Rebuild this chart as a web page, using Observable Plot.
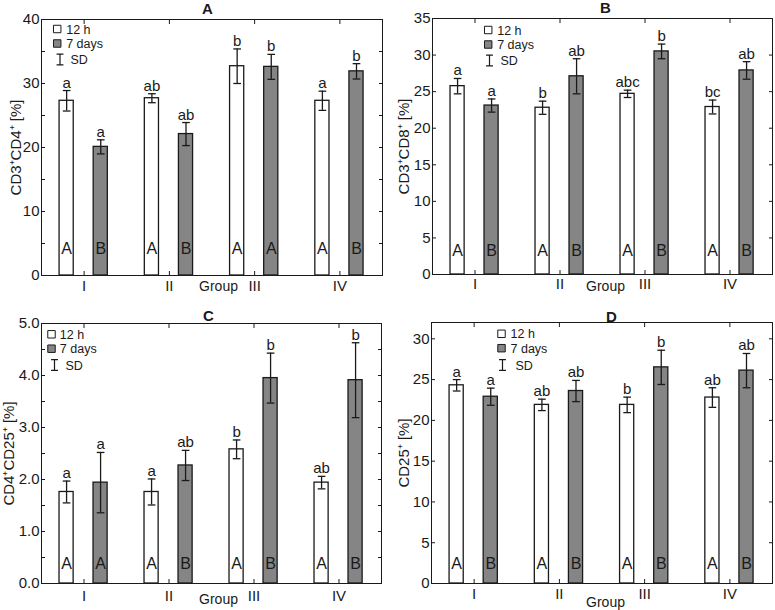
<!DOCTYPE html>
<html><head><meta charset="utf-8">
<script src="https://cdn.jsdelivr.net/npm/d3@7"></script>
<script src="https://cdn.jsdelivr.net/npm/@observablehq/plot@0.6"></script>
<style>
body{margin:0;background:#fff;}
#root{position:relative;width:775px;height:610px;overflow:hidden;font-family:"Liberation Sans",Arial,sans-serif;}
.panel{position:absolute;}
.panel svg{display:block;}
</style></head><body><div id="root"></div>
<script>
// ---- shared categories / labels ----
const groups = ["I", "II", "III", "IV"];
const series = ["12 h", "7 days"];
const legendLabels = ["12 h", "7 days", "SD"];
const xLabel = "Group";
const titles = ["A", "B", "C", "D"];
const yLabels = ["CD3⁺CD4⁺ [%]", "CD3⁺CD8⁺ [%]", "CD4⁺CD25⁺ [%]", "CD25⁺ [%]"];

// ---- Panel A: CD3+CD4+ ----
const aMean12 = [27.3, 27.7, 32.7, 27.3];
const aSd12   = [1.6, 0.7, 2.7, 1.5];
const aMean7  = [20.1, 22.1, 32.6, 31.9];
const aSd7    = [1.1, 1.8, 1.95, 1.2];
const aTop12  = ["a", "ab", "b", "a"];
const aTop7   = ["a", "ab", "b", "b"];
const aBot12  = ["A", "A", "A", "A"];
const aBot7   = ["B", "B", "A", "B"];
const aTicks  = [0, 5, 10, 15, 20, 25, 30, 35, 40];
const aTickLabels = [0, 10, 20, 30, 40];

// ---- Panel B: CD3+CD8+ ----
const bMean12 = [25.75, 22.8, 24.7, 22.9];
const bSd12   = [1.05, 0.9, 0.5, 0.95];
const bMean7  = [23.1, 27.1, 30.5, 27.9];
const bSd7    = [0.9, 2.4, 1.0, 1.2];
const bTop12  = ["a", "b", "abc", "bc"];
const bTop7   = ["a", "ab", "b", "ab"];
const bBot12  = ["A", "A", "A", "A"];
const bBot7   = ["B", "B", "B", "B"];
const bTicks  = [0, 5, 10, 15, 20, 25, 30, 35];
const bTickLabels = [0, 5, 10, 15, 20, 25, 30, 35];

// ---- Panel C: CD4+CD25+ ----
const cMean12 = [1.76, 1.76, 2.58, 1.94];
const cSd12   = [0.21, 0.25, 0.18, 0.12];
const cMean7  = [1.94, 2.27, 3.95, 3.91];
const cSd7    = [0.58, 0.29, 0.48, 0.72];
const cTop12  = ["a", "a", "b", "ab"];
const cTop7   = ["a", "ab", "b", "b"];
const cBot12  = ["A", "A", "A", "A"];
const cBot7   = ["A", "B", "B", "B"];
const cTicks  = [0, 0.5, 1, 1.5, 2, 2.5, 3, 3.5, 4, 4.5, 5];
const cTickLabels = [0, 1, 2, 3, 4, 5];

// ---- Panel D: CD25+ ----
const dMean12 = [24.3, 21.9, 21.9, 22.8];
const dSd12   = [0.7, 0.7, 0.95, 1.2];
const dMean7  = [22.9, 23.6, 26.5, 26.1];
const dSd7    = [1.05, 1.3, 2.1, 2.1];
const dTop12  = ["a", "ab", "b", "ab"];
const dTop7   = ["a", "ab", "b", "ab"];
const dBot12  = ["A", "A", "A", "A"];
const dBot7   = ["B", "B", "B", "B"];
const dTicks  = [0, 5, 10, 15, 20, 25, 30];
const dTickLabels = [0, 5, 10, 15, 20, 25, 30];

// ---- panel definitions (data refs) ----
const panels = [
  {title: titles[0], yLabel: yLabels[0], ymax: 40, m12: aMean12, s12: aSd12, m7: aMean7, s7: aSd7, t12: aTop12, t7: aTop7, b12: aBot12, b7: aBot7, ticks: aTicks, tickLabels: aTickLabels, fmt: d3.format("d")},
  {title: titles[1], yLabel: yLabels[1], ymax: 35, m12: bMean12, s12: bSd12, m7: bMean7, s7: bSd7, t12: bTop12, t7: bTop7, b12: bBot12, b7: bBot7, ticks: bTicks, tickLabels: bTickLabels, fmt: d3.format("d")},
  {title: titles[2], yLabel: yLabels[2], ymax: 5, m12: cMean12, s12: cSd12, m7: cMean7, s7: cSd7, t12: cTop12, t7: cTop7, b12: cBot12, b7: cBot7, ticks: cTicks, tickLabels: cTickLabels, fmt: d3.format(".1f")},
  {title: titles[3], yLabel: yLabels[3], ymax: 32, m12: dMean12, s12: dSd12, m7: dMean7, s7: dSd7, t12: dTop12, t7: dTop7, b12: dBot12, b7: dBot7, ticks: dTicks, tickLabels: dTickLabels, fmt: d3.format("d")}
];

// ---- layout (positions / styles only) ----
const layouts = [
  {left: 0, top: 0, w: 387, h: 300, mL: 41, mR: 5, mT: 19, mB: 25, titleDx: -4.5, titleDy: -10.5, botDy: -27, grpDx: 6.5, grpDy: 11, ylabDx: -25, xPad: 5,
   legSq: 15.7, legSd: 18.5, legTx: 24.7, legSdTx: 29, legRows: [9.5, 24, 40]},
  {left: 387, top: 0, w: 388, h: 300, mL: 45, mR: 3, mT: 18, mB: 26, titleDx: 3, titleDy: -10, botDy: -24, grpDx: 3, grpDy: 12, ylabDx: -28, xPad: 4,
   legSq: 55.7, legSd: 57, legTx: 64.7, legSdTx: 68, legRows: [11.5, 26, 42]},
  {left: 0, top: 300, w: 387, h: 310, mL: 41, mR: 6, mT: 23, mB: 27, titleDx: -3, titleDy: -7, botDy: -20, grpDx: 7, grpDy: 16, ylabDx: -32.5, xPad: 7,
   legSq: 10, legSd: 13, legTx: 18.3, legSdTx: 24, legRows: [10.8, 25.2, 41.5]},
  {left: 387, top: 300, w: 388, h: 310, mL: 44, mR: 3, mT: 22, mB: 27, titleDx: 9.5, titleDy: -5.5, botDy: -20, grpDx: 3.5, grpDy: 19, ylabDx: -27, xPad: 5,
   legSq: 70, legSd: 71, legTx: 79, legSdTx: 84, legRows: [11.3, 25.7, 42.5]}
];

const GRAY = "#858585";
const INK = "#1a1a1a";
const FONT = "'Liberation Sans', Arial, Helvetica, sans-serif";

const errSymbol = {
  draw(ctx, size) {
    const h = Math.sqrt(size / Math.PI);
    const c = h * 0.65;
    ctx.moveTo(-c, -h); ctx.lineTo(c, -h);
    ctx.moveTo(0, -h); ctx.lineTo(0, h);
    ctx.moveTo(-c, h); ctx.lineTo(c, h);
  }
};

function makePanel(p, L) {
  const rows = [];
  groups.forEach((g, i) => {
    rows.push({g: i + 1, s: 0, v: p.m12[i], sd: p.s12[i], top: p.t12[i], bot: p.b12[i]});
    rows.push({g: i + 1, s: 1, v: p.m7[i], sd: p.s7[i], top: p.t7[i], bot: p.b7[i]});
  });
  const off = [-0.205, 0.195], hw = 0.083, cw = 0.045;
  const cx = d => d.g + off[d.s];
  const gIdx = groups.map((g, i) => i + 1);

  const legend = [];
  [0, 1].forEach(k => {
    legend.push(Plot.dot([series[k]], {frameAnchor: "top-left", dx: L.legSq, dy: L.legRows[k], symbol: "square", r: 4.2,
      fill: k ? GRAY : "white", stroke: INK, strokeWidth: 1}));
    legend.push(Plot.text([legendLabels[k]], {text: d => d, frameAnchor: "top-left", dx: L.legTx, dy: L.legRows[k] + 0.5, textAnchor: "start", lineAnchor: "middle", fontSize: 12.5, fill: INK}));
  });
  legend.push(Plot.dot([legendLabels[2]], {frameAnchor: "top-left", dx: L.legSd, dy: L.legRows[2], symbol: errSymbol, r: 5.3, fill: "none", stroke: INK, strokeWidth: 1.2}));
  legend.push(Plot.text([legendLabels[2]], {text: d => d, frameAnchor: "top-left", dx: L.legSdTx, dy: L.legRows[2] + 0.5, textAnchor: "start", lineAnchor: "middle", fontSize: 12.5, fill: INK}));

  return Plot.plot({
    width: L.w, height: L.h,
    marginLeft: L.mL, marginRight: L.mR, marginTop: L.mT, marginBottom: L.mB,
    x: {domain: [0.5, 4.5]},
    y: {domain: [0, p.ymax]},
    style: {fontFamily: FONT, fontSize: "13px", color: INK, background: "white", overflow: "visible"},
    marks: [
      Plot.rect(rows, {x1: d => cx(d) - hw, x2: d => cx(d) + hw, y1: 0, y2: "v",
        fill: d => d.s ? GRAY : "white", stroke: INK, strokeWidth: 1.3}),
      Plot.ruleX(rows, {x: cx, y1: d => d.v - d.sd, y2: d => d.v + d.sd, stroke: INK, strokeWidth: 1.3}),
      Plot.link(rows, {x1: d => cx(d) - cw, x2: d => cx(d) + cw, y1: d => d.v + d.sd, y2: d => d.v + d.sd, stroke: INK, strokeWidth: 1.3}),
      Plot.link(rows, {x1: d => cx(d) - cw, x2: d => cx(d) + cw, y1: d => d.v - d.sd, y2: d => d.v - d.sd, stroke: INK, strokeWidth: 1.3}),
      Plot.text(rows, {x: cx, y: d => d.v + d.sd, text: "top", lineAnchor: "bottom", dy: -3, fontSize: 15, fill: INK}),
      Plot.text(rows, {x: cx, text: "bot", frameAnchor: "bottom", lineAnchor: "middle", dy: L.botDy, fontSize: 16, fill: INK}),
      Plot.frame({stroke: INK, strokeWidth: 1}),
      // inward ticks on all four sides
      Plot.axisY(p.ticks, {anchor: "left", tickSize: 4, dx: 4, fill: "none", label: null}),
      Plot.axisY(p.ticks, {anchor: "right", tickSize: 4, dx: -4, fill: "none", label: null}),
      Plot.axisX(gIdx, {anchor: "bottom", tickSize: 4, dy: -4, fill: "none", label: null}),
      Plot.axisX(gIdx, {anchor: "top", tickSize: 4, dy: 4, fill: "none", label: null}),
      // tick labels
      Plot.axisY(p.tickLabels, {anchor: "left", tickSize: 0, tickPadding: 2, stroke: "none", fill: INK, label: null, tickFormat: p.fmt, fontSize: 15}),
      Plot.axisX(gIdx, {anchor: "bottom", tickSize: 0, tickPadding: L.xPad, stroke: "none", fill: INK, label: null, tickFormat: d => groups[d - 1], fontSize: 15}),
      // axis titles and panel title
      Plot.text([xLabel], {text: d => d, frameAnchor: "bottom", lineAnchor: "middle", dx: L.grpDx, dy: L.grpDy, fontSize: 14, fill: INK}),
      Plot.text([p.yLabel], {text: d => d, frameAnchor: "left", textAnchor: "middle", lineAnchor: "middle", rotate: -90, dx: L.ylabDx, fontSize: 15, fill: INK}),
      Plot.text([p.title], {text: d => d, frameAnchor: "top", textAnchor: "middle", lineAnchor: "middle", dx: L.titleDx, dy: L.titleDy, fontSize: 15, fontWeight: "bold", fill: INK}),
      ...legend
    ]
  });
}

const root = document.getElementById("root");
panels.forEach((p, i) => {
  const L = layouts[i];
  const div = document.createElement("div");
  div.className = "panel";
  div.style.left = L.left + "px";
  div.style.top = L.top + "px";
  div.appendChild(makePanel(p, L));
  root.appendChild(div);
});
</script>
</body></html>
